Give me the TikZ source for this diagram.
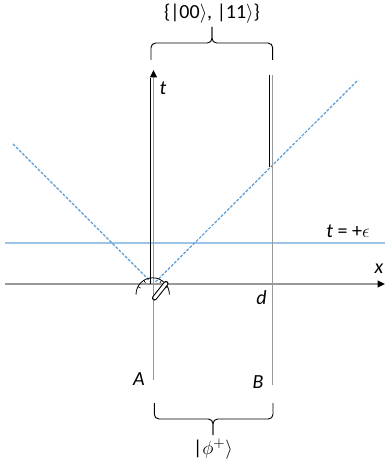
\documentclass[tikz,border=0pt]{standalone}
\usepackage{fontspec}
\setmainfont{Carlito}
\usetikzlibrary{
  arrows.meta,
  positioning
}
\definecolor{axisGray}{HTML}{999999}
\definecolor{sliceBlue}{HTML}{9DC3E6}
\definecolor{coneBlue}{HTML}{5B9BD5}
\tikzset{
  axisLine/.style={draw=axisGray, line width=1.1pt},
  axisArrow/.style={-{Triangle[length=5.5pt, width=5pt, color=black]}},
  worldLine/.style={draw=black, line width=0.6pt},
  coneLine/.style={draw=coneBlue, line width=0.9pt,
    dash pattern=on 2.2pt off 1.1pt},
  sliceLine/.style={draw=sliceBlue, line width=1.1pt},
  stateBrace/.style={draw=black, line width=0.7pt, rounded corners=3.5pt},
  axisLabel/.style={font=\fontsize{15}{18}\selectfont\itshape, inner sep=1pt},
  stateLabel/.style={font=\fontsize{15}{18}\selectfont, inner sep=1pt},
  meterArc/.style={draw=black, line width=0.6pt}
}

\begin{document}
\begin{tikzpicture}[x=0.75pt,y=-0.75pt]
  \useasboundingbox (0,0) rectangle (385,466);

  % axes and the time slice
  \coordinate (xStart) at (5,284);
  \coordinate (xEnd) at (385,284);
  \coordinate (sliceStart) at (5,243);
  \coordinate (sliceEnd) at (385,243);
  \draw[sliceLine] (sliceStart) -- (sliceEnd);
  \draw[axisLine, axisArrow] (xStart) -- (xEnd);

  % light cone from A
  \coordinate (coneLeft) at (13,144);
  \coordinate (coneLeftFoot) at (151,282);
  \coordinate (coneRightFoot) at (155.5,282);
  \coordinate (coneRight) at (358,80);
  \draw[coneLine] (coneLeft) -- (coneLeftFoot);
  \draw[coneLine] (coneRightFoot) -- (coneRight);

  % Alice
  \coordinate (aBottom) at (153.5,380);
  \coordinate (aTop) at (153.5,70);
  \coordinate (aOldTop) at (150.5,78);
  \coordinate (aOldFoot) at (150.5,284);
  \draw[axisLine, axisArrow] (aBottom) -- (aTop);
  \draw[worldLine] (aOldFoot) -- (aOldTop);

  % Bob
  \coordinate (bBottom) at (272.7,385);
  \coordinate (bTop) at (272.7,75);
  \coordinate (bOldTop) at (269.3,75);
  \coordinate (bOldFoot) at (269.3,167);
  \draw[axisLine] (bBottom) -- (bTop);
  \draw[worldLine] (bOldFoot) -- (bOldTop);

  % measurement at the origin
  \coordinate (meter) at (152.7,294.5);
  \draw[meterArc] (136,294.5) arc[start angle=180, end angle=360, radius=16.7];
  \begin{scope}[shift={(meter)}]
    \foreach \a in {208,238,302,332}
      \draw[meterArc, line width=0.45pt] (\a:13.5) -- (\a:16.7);
  \end{scope}
  \coordinate (needleFoot) at (154.5,298);
  \coordinate (needleTip) at (166,283.5);
  \draw[line width=3.8pt, line cap=round] (needleFoot) -- (needleTip);
  \draw[white, line width=2.2pt, line cap=round] (needleFoot) -- (needleTip);

  % braces
  \coordinate (topTip) at (212,27);
  \coordinate (bottomTip) at (213,435);
  \draw[stateBrace] (151,60) |- (212,43) -- (topTip);
  \draw[stateBrace] (272.7,60) |- (212,43) -- (topTip);
  \draw[stateBrace] (154.3,403) |- (213,419) -- (bottomTip);
  \draw[stateBrace] (273,403) |- (213,419) -- (bottomTip);

  % labels
  \node[stateLabel] (pairLabel) at (212,14)
    {\{|00$\rangle$, |11$\rangle$\}};
  \node[stateLabel] (bellLabel) at (213,449) {|$\phi^+\rangle$};
  \node[axisLabel] (tLabel) at (163,88) {t};
  \node[axisLabel] (xLabel) at (379,269) {x};
  \node[axisLabel] (dLabel) at (261.5,298) {d};
  \node[axisLabel] (aLabel) at (139,379) {A};
  \node[axisLabel] (bLabel) at (258,382) {B};
  \node[stateLabel] (sliceLabel) at (348,231) {\textit{t} = +$\epsilon$};
\end{tikzpicture}
\end{document}
